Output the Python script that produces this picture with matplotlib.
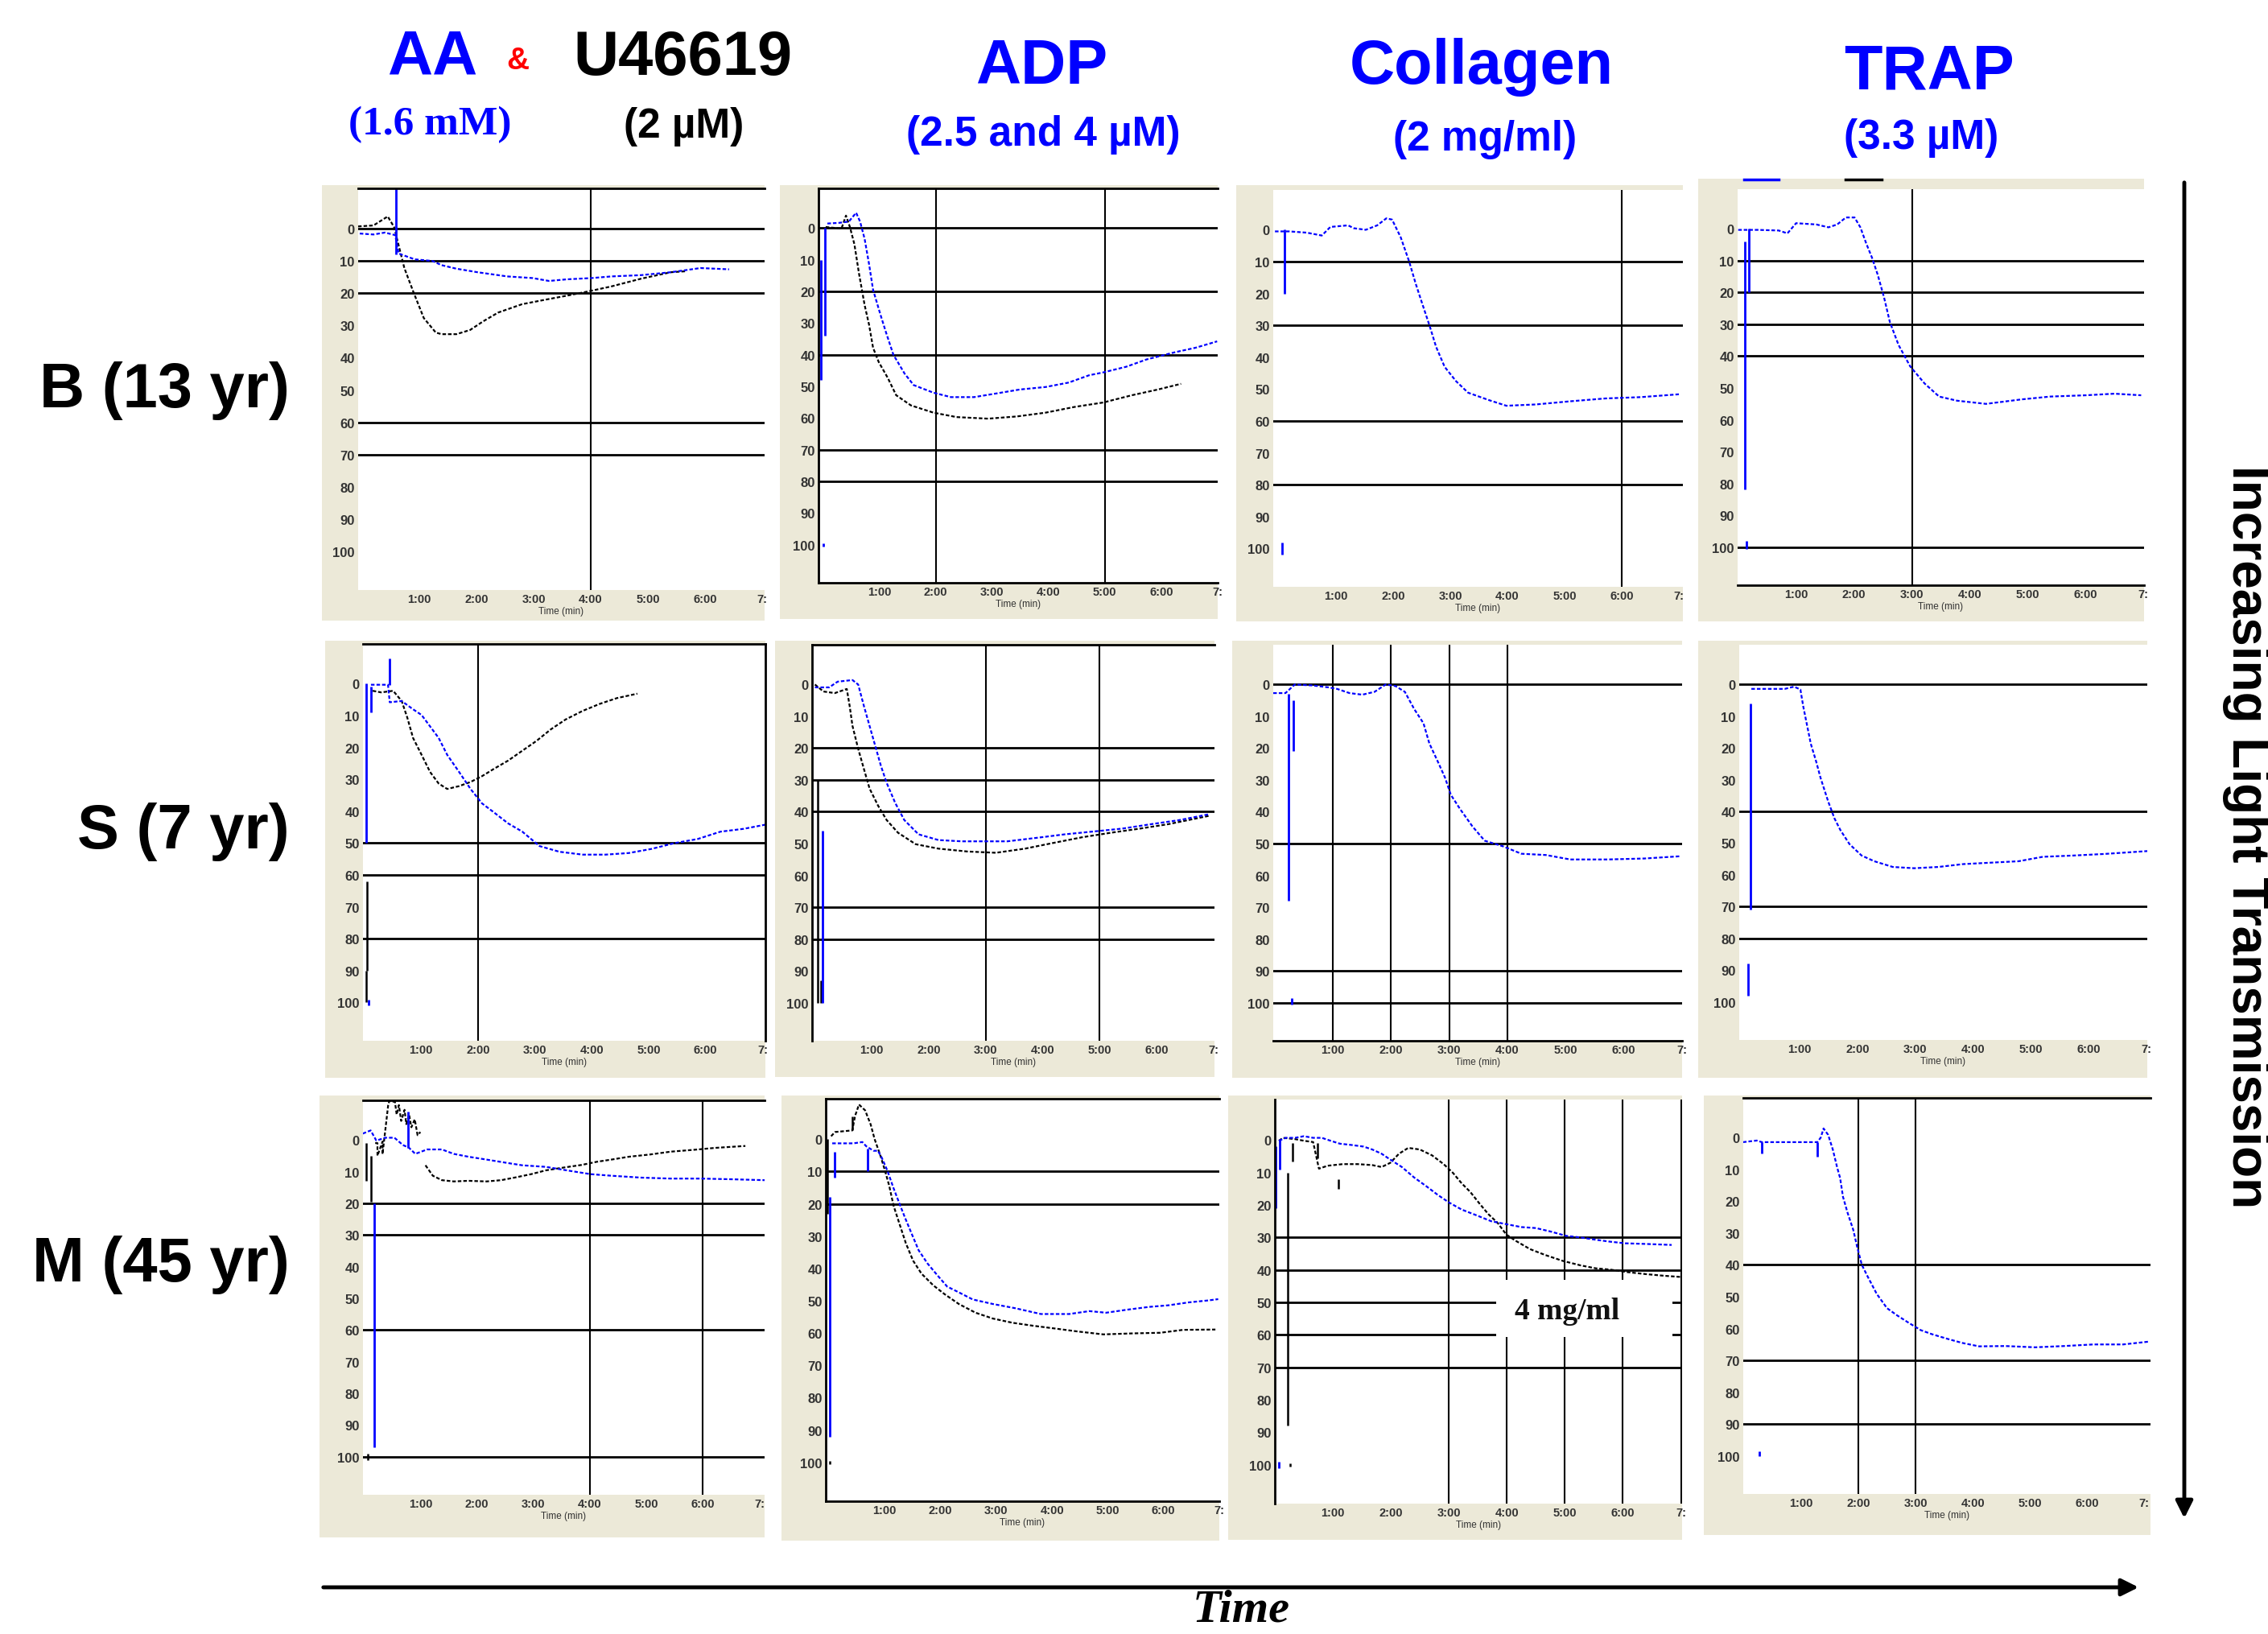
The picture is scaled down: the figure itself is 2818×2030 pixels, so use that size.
import matplotlib
matplotlib.use('Agg')
import matplotlib.pyplot as plt
from matplotlib.patches import Rectangle, FancyArrowPatch

plt.rcParams['font.family'] = ['Liberation Sans', 'DejaVu Sans']

W, H = 2818, 2031
BLUE = '#0000ff'
BEIGE = '#ECE9D8'

# ---------------- labels ----------------
Y_TICKS = [0, 10, 20, 30, 40, 50, 60, 70, 80, 90, 100]
X_TICKS = [1, 2, 3, 4, 5, 6, 7]
X_TICK_LABELS = ['1:00', '2:00', '3:00', '4:00', '5:00', '6:00', '7:']
X_LABEL = 'Time (min)'
ROW_LABELS = ['B (13 yr)', 'S (7 yr)', 'M (45 yr)']

# ---------------- data (time in min, % aggregation) ----------------
# Row B
B_AA_blue_t = [-0.04, 0.2, 0.4, 0.58, 0.64, 0.92, 1.23, 1.39, 1.65, 2.02, 2.54, 2.98, 3.27, 3.58, 4.02, 4.36, 4.88, 5.40, 5.92, 6.42]
B_AA_blue_y = [1.5, 1.8, 1.2, 2.0, 7.7, 9.5, 10.0, 11.3, 12.4, 13.5, 14.8, 15.3, 16.2, 15.7, 15.3, 14.8, 14.4, 13.5, 12.2, 12.6]
B_AA_black_t = [-0.07, 0.2, 0.45, 0.56, 0.74, 0.90, 1.08, 1.29, 1.39, 1.65, 1.89, 2.12, 2.38, 2.80, 3.21, 3.63, 3.94, 4.36, 4.88, 5.40, 5.66]
B_AA_black_y = [-0.7, -1.0, -3.8, -0.5, 12.2, 19.7, 27.7, 32.2, 32.7, 32.7, 31.4, 28.7, 26.0, 23.4, 22.0, 20.6, 19.5, 17.9, 15.5, 13.5, 13.2]
B_AA_blue_spikes = [(0.60, -12.5, 8.0)]
B_AA_black_spikes = []
B_AA_hlines = [0, 10, 20, 60, 70]
B_AA_vlines = [4]

B_ADP_blue_t = [0.08, 0.28, 0.46, 0.59, 0.66, 0.74, 0.82, 0.89, 1.02, 1.12, 1.25, 1.45, 1.61, 1.96, 2.27, 2.68, 3.09, 3.49, 3.95, 4.36, 4.72, 4.97, 5.38, 5.74, 6.25, 6.61, 6.99]
B_ADP_blue_y = [-1.4, -1.6, -2.0, -4.8, -2.0, 3.4, 11.5, 19.5, 27.3, 33.0, 40.0, 46.0, 49.6, 52.0, 53.4, 53.4, 52.2, 51.0, 50.2, 48.8, 46.5, 45.6, 43.8, 41.5, 39.2, 37.8, 35.8]
B_ADP_black_t = [0.05, 0.33, 0.41, 0.48, 0.56, 0.64, 0.74, 0.82, 0.89, 0.99, 1.15, 1.30, 1.56, 1.96, 2.37, 2.93, 3.44, 3.95, 4.46, 4.97, 5.48, 5.94, 6.35]
B_ADP_black_y = [-0.3, 0.2, -3.9, -0.3, 5.2, 14.3, 24.3, 30.6, 37.8, 42.3, 47.3, 52.8, 56.0, 58.3, 59.7, 60.2, 59.5, 58.3, 56.5, 55.1, 52.8, 51.0, 49.2]
B_ADP_blue_spikes = [(-0.03, 10, 48), (0.04, 0, 34), (0.01, 99.5, 100.5)]
B_ADP_black_spikes = []
B_ADP_hlines = [0, 20, 40, 70, 80]
B_ADP_vlines = [2, 5]

B_COL_blue_t = [-0.07, 0.18, 0.49, 0.75, 0.90, 1.21, 1.31, 1.52, 1.72, 1.88, 1.98, 2.13, 2.28, 2.39, 2.49, 2.64, 2.75, 2.90, 3.10, 3.31, 3.67, 3.98, 4.49, 5.10, 5.72, 6.33, 7.00]
B_COL_blue_y = [0.5, 0.5, 0.9, 1.8, -0.9, -1.4, -0.5, 0.0, -1.4, -3.6, -3.2, 2.3, 10.0, 16.7, 22.2, 30.3, 36.7, 43.0, 47.5, 51.1, 53.4, 55.2, 54.8, 53.8, 52.9, 52.5, 51.6]
B_COL_blue_spikes = [(0.10, 0, 20), (0.06, 98, 102)]
B_COL_hlines = [10, 30, 60, 80]
B_COL_vlines = [6]

B_TRAP_blue_t = [0.0, 0.34, 0.70, 0.85, 1.00, 1.35, 1.56, 1.71, 1.86, 2.01, 2.11, 2.21, 2.31, 2.41, 2.52, 2.62, 2.77, 2.97, 3.22, 3.47, 3.78, 4.28, 4.89, 5.39, 6.00, 6.50, 6.96]
B_TRAP_blue_y = [0.3, 0.3, 0.5, 1.4, -1.8, -1.4, -0.5, -1.4, -3.6, -3.6, -0.5, 4.5, 9.0, 14.4, 21.6, 29.3, 36.5, 43.2, 48.6, 52.7, 54.0, 55.0, 53.6, 52.7, 52.3, 51.8, 52.3]
B_TRAP_blue_spikes = [(0.11, 4, 82), (0.18, 0, 20), (0.14, 98, 100.5)]
B_TRAP_hlines = [10, 20, 30, 40, 100]
B_TRAP_vlines = [3]

# Row S
S_AA_blue_t = [0.12, 0.42, 0.45, 0.66, 0.86, 1.01, 1.16, 1.31, 1.46, 1.67, 1.87, 2.07, 2.27, 2.53, 2.78, 3.08, 3.43, 3.84, 4.24, 4.65, 5.05, 5.45, 5.86, 6.26, 6.67, 7.05]
S_AA_blue_y = [0.3, 0.3, 5.8, 5.4, 8.0, 9.8, 13.4, 17.0, 22.3, 27.7, 33.0, 37.5, 40.2, 43.8, 46.4, 50.9, 52.7, 53.6, 53.6, 53.1, 51.8, 50.0, 48.7, 46.4, 45.5, 44.2]
S_AA_black_t = [0.15, 0.30, 0.51, 0.66, 0.76, 0.86, 1.01, 1.16, 1.31, 1.46, 1.67, 1.87, 2.07, 2.27, 2.53, 2.78, 3.03, 3.28, 3.54, 3.84, 4.14, 4.44, 4.80]
S_AA_black_y = [2.2, 2.7, 2.2, 5.4, 10.7, 17.0, 22.3, 27.7, 31.3, 33.0, 32.1, 30.8, 29.0, 26.8, 24.1, 21.0, 17.9, 14.3, 11.2, 8.5, 6.3, 4.5, 3.1]
S_AA_blue_spikes = [(0.03, 0, 50), (0.12, 1, 9), (0.45, -8, 0.3), (0.08, 99, 101)]
S_AA_black_spikes = [(0.05, 62, 90), (0.035, 90, 100)]
S_AA_hlines = [50, 60, 80]
S_AA_vlines = [2]

S_ADP_blue_t = [0.0, 0.25, 0.40, 0.66, 0.76, 0.86, 0.96, 1.06, 1.16, 1.26, 1.41, 1.57, 1.82, 2.17, 2.58, 2.98, 3.38, 3.99, 4.39, 4.90, 5.40, 5.91, 6.41, 6.92]
S_ADP_blue_y = [0.9, 0.9, -0.9, -1.4, 0.0, 6.7, 13.0, 19.3, 25.6, 30.9, 37.2, 42.6, 47.1, 48.9, 49.3, 49.3, 49.3, 48.0, 47.1, 46.2, 45.3, 43.9, 42.6, 40.8]
S_ADP_black_t = [0.0, 0.15, 0.35, 0.56, 0.61, 0.66, 0.76, 0.86, 0.96, 1.11, 1.26, 1.46, 1.77, 2.17, 2.68, 3.18, 3.69, 4.19, 4.70, 5.20, 5.71, 6.21, 6.92]
S_ADP_black_y = [0.0, 2.2, 2.7, 1.4, 6.7, 13.0, 20.2, 26.5, 32.7, 38.1, 42.6, 46.6, 50.2, 51.6, 52.5, 52.9, 51.6, 49.8, 48.0, 46.6, 45.3, 43.9, 41.3]
S_ADP_blue_spikes = [(0.13, 46, 100)]
S_ADP_black_spikes = [(0.05, 30, 100), (0.10, 93, 100)]
S_ADP_hlines = [20, 30, 40, 70, 80]
S_ADP_vlines = [3, 5]

S_COL_blue_t = [-0.02, 0.19, 0.35, 0.66, 0.93, 1.08, 1.29, 1.51, 1.72, 1.91, 2.08, 2.24, 2.40, 2.56, 2.66, 2.82, 2.93, 3.03, 3.19, 3.40, 3.61, 3.93, 4.24, 4.66, 5.08, 5.72, 6.35, 6.96]
S_COL_blue_y = [2.7, 2.7, 0.0, 0.3, 0.9, 1.4, 2.7, 3.2, 2.3, 0.0, 0.5, 2.3, 7.7, 12.2, 18.5, 24.8, 29.3, 34.7, 39.2, 44.6, 49.1, 50.9, 53.2, 53.6, 55.0, 55.0, 54.7, 54.0]
S_COL_blue_spikes = [(0.24, 3, 68), (0.33, 5, 21), (0.30, 98.5, 100.5)]
S_COL_hlines = [0, 50, 90, 100]
S_COL_vlines = [1, 2, 3, 4]

S_TRAP_blue_t = [0.16, 0.43, 0.74, 0.90, 1.01, 1.06, 1.12, 1.19, 1.28, 1.36, 1.49, 1.60, 1.70, 1.86, 2.07, 2.29, 2.61, 2.98, 3.40, 3.83, 4.36, 4.79, 5.21, 5.74, 6.28, 7.02]
S_TRAP_blue_y = [1.4, 1.4, 1.4, 0.7, 1.6, 7.0, 12.4, 18.7, 24.1, 29.5, 36.8, 42.2, 45.8, 50.3, 53.9, 55.7, 57.5, 57.9, 57.5, 56.6, 56.1, 55.7, 54.3, 53.9, 53.4, 52.5]
S_TRAP_blue_spikes = [(0.14, 6, 71), (0.10, 88, 98)]
S_TRAP_hlines = [0, 40, 70, 80]
S_TRAP_vlines = []

# Row M
M_AA_blue_t = [-0.02, 0.12, 0.22, 0.38, 0.54, 0.69, 0.80, 0.91, 1.12, 1.38, 1.59, 1.85, 2.17, 2.48, 2.80, 3.22, 3.59, 4.01, 4.38, 4.91, 5.43, 5.96, 6.48, 7.09]
M_AA_blue_y = [-2.0, -3.0, 0.2, -0.7, -0.7, 1.6, 2.5, 4.4, 3.0, 3.0, 4.4, 5.3, 6.2, 7.1, 8.0, 8.5, 9.6, 10.8, 11.3, 11.9, 12.2, 12.2, 12.4, 12.7]
M_AA_black_t = [1.09, 1.22, 1.38, 1.59, 1.85, 2.17, 2.43, 2.69, 2.96, 3.22, 3.54, 3.85, 4.12, 4.38, 4.69, 5.06, 5.43, 5.85, 6.22, 6.75]
M_AA_black_y = [8.0, 11.3, 12.7, 13.1, 12.9, 13.1, 12.7, 11.8, 10.8, 9.6, 8.7, 7.9, 6.9, 6.2, 5.3, 4.6, 3.7, 3.1, 2.5, 1.9]
M_AA_black_noise_t = [0.20, 0.24, 0.24, 0.33, 0.33, 0.43, 0.45, 0.55, 0.58, 0.62, 0.66, 0.72, 0.75, 0.80, 0.84, 0.90, 0.95, 1.00]
M_AA_black_noise_y = [1.0, 1.0, 5.0, 0.5, 4.5, -11.0, -12.3, -12.0, -8.0, -11.0, -6.0, -9.5, -5.0, -8.0, -4.0, -6.5, -1.5, -2.5]
M_AA_blue_spikes = [(0.18, 20, 97), (0.78, -9, 2.5)]
M_AA_black_spikes = [(0.04, 1, 13), (0.12, 5, 19.5), (0.07, 99, 101)]
M_AA_hlines = [20, 30, 60, 100]
M_AA_vlines = [4, 6]

M_ADP_blue_t = [0.06, 0.24, 0.44, 0.60, 0.67, 0.80, 0.88, 0.95, 1.05, 1.16, 1.26, 1.36, 1.49, 1.61, 1.77, 1.92, 2.12, 2.33, 2.58, 2.94, 3.34, 3.80, 4.31, 4.67, 4.97, 5.33, 5.74, 6.09, 6.45, 6.80, 6.98]
M_ADP_blue_y = [1.3, 1.3, 1.3, 0.9, 2.2, 3.6, 3.6, 5.8, 9.8, 15.2, 19.7, 24.1, 29.5, 34.4, 38.5, 41.6, 45.6, 47.4, 49.6, 51.0, 52.3, 54.1, 54.1, 53.2, 53.7, 52.8, 51.9, 51.4, 50.5, 49.9, 49.5]
M_ADP_black_t = [0.04, 0.11, 0.42, 0.47, 0.54, 0.65, 0.75, 0.82, 0.93, 1.00, 1.08, 1.16, 1.26, 1.38, 1.51, 1.66, 1.87, 2.07, 2.33, 2.63, 2.94, 3.29, 3.65, 4.06, 4.46, 4.92, 5.43, 5.94, 6.35, 6.93]
M_ADP_black_y = [-0.9, -2.2, -2.7, -7.2, -10.7, -8.9, -4.5, 0.0, 5.4, 9.4, 14.3, 20.6, 25.9, 32.2, 37.6, 41.6, 45.2, 47.9, 51.0, 53.7, 55.5, 56.8, 57.7, 58.6, 59.5, 60.4, 60.1, 59.9, 59.0, 58.9]
M_ADP_blue_spikes = [(0.02, 18, 92), (0.10, 4, 12), (0.70, 3, 10)]
M_ADP_black_spikes = [(-0.03, 0, 23), (0.42, -7, -2.7), (0.02, 99.5, 100.5)]
M_ADP_hlines = [10, 20]
M_ADP_vlines = []

M_COL_blue_t = [0.07, 0.19, 0.35, 0.50, 0.66, 0.81, 0.96, 1.12, 1.32, 1.53, 1.68, 1.84, 1.99, 2.19, 2.40, 2.61, 2.81, 3.00, 3.22, 3.48, 3.73, 3.99, 4.25, 4.50, 4.76, 5.02, 5.27, 5.53, 5.78, 6.04, 6.40, 6.84]
M_COL_blue_y = [0.2, -0.7, -0.7, -1.2, -0.7, -0.7, 0.2, 1.1, 1.5, 2.0, 2.9, 4.2, 6.0, 8.3, 11.5, 14.2, 16.9, 19.2, 21.4, 23.2, 25.0, 25.9, 26.8, 27.1, 28.2, 29.5, 30.0, 30.7, 31.3, 31.8, 32.0, 32.3]
M_COL_black_t = [0.07, 0.14, 0.35, 0.50, 0.66, 0.76, 0.91, 1.17, 1.43, 1.68, 1.84, 1.99, 2.14, 2.30, 2.50, 2.71, 2.91, 3.07, 3.22, 3.37, 3.53, 3.68, 3.84, 3.99, 4.14, 4.40, 4.66, 4.96, 5.27, 5.53, 5.78, 6.09, 6.40, 6.71, 7.02]
M_COL_black_y = [0.2, -0.7, -0.3, 0.2, 0.6, 8.8, 7.9, 7.4, 7.4, 7.7, 8.3, 7.0, 4.2, 2.4, 2.9, 4.7, 7.4, 10.1, 13.3, 16.0, 19.6, 22.8, 25.5, 29.1, 30.9, 33.6, 35.4, 37.2, 38.6, 39.5, 39.9, 40.7, 41.3, 41.8, 42.2]
M_COL_blue_spikes = [(0.02, 2, 21), (0.09, 0, 9), (0.07, 99, 101)]
M_COL_black_spikes = [(0.22, 10, 88), (0.30, 1, 6.6), (0.73, 1, 5.5), (1.10, 12, 15), (0.26, 99.5, 100.5)]
M_COL_hlines = [30, 40, 50, 60, 70]
M_COL_vlines = [3, 4, 5, 6, 7]
M_COL_note = '4 mg/ml'

M_TRAP_blue_t = [-0.02, 0.22, 0.31, 0.42, 0.73, 0.98, 1.24, 1.28, 1.34, 1.39, 1.47, 1.55, 1.63, 1.68, 1.73, 1.81, 1.91, 1.98, 2.06, 2.16, 2.32, 2.50, 2.68, 2.88, 3.09, 3.29, 3.55, 3.81, 4.11, 4.57, 5.09, 5.60, 6.11, 6.63, 7.09]
M_TRAP_blue_y = [1.4, 0.9, 1.4, 1.4, 1.4, 1.4, 1.4, 1.4, 0.0, -2.9, -0.9, 3.6, 9.5, 12.7, 18.6, 23.6, 29.0, 34.5, 40.0, 43.6, 49.1, 53.6, 55.9, 58.2, 60.5, 61.8, 63.2, 64.5, 65.6, 65.5, 65.9, 65.5, 65.0, 65.0, 64.1]
M_TRAP_blue_spikes = [(0.31, 1.4, 5), (1.28, 1.4, 5.9), (0.27, 98.5, 100)]
M_TRAP_hlines = [40, 70, 90]
M_TRAP_vlines = [2, 3]

# ---------------- layout (pixel boxes: left, top, right, bottom) ----------------
panels = [
    dict(plot=(445, 235, 950, 734), outer=(400, 231, 950, 772), xlim=(-0.068, 7.04), spines=('top',),
         blue=[(B_AA_blue_t, B_AA_blue_y)], black=[(B_AA_black_t, B_AA_black_y)],
         bspk=B_AA_blue_spikes, kspk=B_AA_black_spikes, hl=B_AA_hlines, vl=B_AA_vlines),
    dict(plot=(1017, 235, 1513, 725), outer=(969, 231, 1513, 770), xlim=(-0.077, 7.0), spines=('top', 'left', 'bottom'),
         blue=[(B_ADP_blue_t, B_ADP_blue_y)], black=[(B_ADP_black_t, B_ADP_black_y)],
         bspk=B_ADP_blue_spikes, kspk=B_ADP_black_spikes, hl=B_ADP_hlines, vl=B_ADP_vlines),
    dict(plot=(1582, 237, 2091, 730), outer=(1536, 231, 2091, 773), xlim=(-0.1, 7.07), spines=(),
         blue=[(B_COL_blue_t, B_COL_blue_y)], black=[],
         bspk=B_COL_blue_spikes, kspk=[], hl=B_COL_hlines, vl=B_COL_vlines),
    dict(plot=(2159, 236, 2664, 728), outer=(2110, 223, 2664, 773), xlim=(-0.01, 7.01), spines=('bottom',),
         blue=[(B_TRAP_blue_t, B_TRAP_blue_y)], black=[],
         bspk=B_TRAP_blue_spikes, kspk=[], hl=B_TRAP_hlines, vl=B_TRAP_vlines, legend=True),
    dict(plot=(451, 801, 951, 1294), outer=(404, 797, 951, 1340), xlim=(-0.02, 7.05), spines=('top', 'right'),
         blue=[(S_AA_blue_t, S_AA_blue_y)], black=[(S_AA_black_t, S_AA_black_y)],
         bspk=S_AA_blue_spikes, kspk=S_AA_black_spikes, hl=S_AA_hlines, vl=S_AA_vlines),
    dict(plot=(1009, 802, 1509, 1294), outer=(963, 797, 1509, 1339), xlim=(-0.05, 7.02), spines=('top', 'left'),
         blue=[(S_ADP_blue_t, S_ADP_blue_y)], black=[(S_ADP_black_t, S_ADP_black_y)],
         bspk=S_ADP_blue_spikes, kspk=S_ADP_black_spikes, hl=S_ADP_hlines, vl=S_ADP_vlines),
    dict(plot=(1582, 802, 2090, 1294), outer=(1531, 797, 2090, 1340), xlim=(-0.02, 7.0), spines=('bottom',),
         blue=[(S_COL_blue_t, S_COL_blue_y)], black=[],
         bspk=S_COL_blue_spikes, kspk=[], hl=S_COL_hlines, vl=S_COL_vlines),
    dict(plot=(2161, 802, 2668, 1293), outer=(2110, 797, 2668, 1340), xlim=(-0.05, 7.02), spines=(),
         blue=[(S_TRAP_blue_t, S_TRAP_blue_y)], black=[],
         bspk=S_TRAP_blue_spikes, kspk=[], hl=S_TRAP_hlines, vl=S_TRAP_vlines),
    dict(plot=(451, 1368, 950, 1858), outer=(397, 1362, 950, 1911), xlim=(-0.016, 7.09), spines=('top',),
         blue=[(M_AA_blue_t, M_AA_blue_y)], black=[(M_AA_black_t, M_AA_black_y), (M_AA_black_noise_t, M_AA_black_noise_y)],
         bspk=M_AA_blue_spikes, kspk=M_AA_black_spikes, hl=M_AA_hlines, vl=M_AA_vlines),
    dict(plot=(1026, 1366, 1515, 1866), outer=(971, 1362, 1515, 1915), xlim=(-0.056, 6.98), spines=('top', 'left', 'bottom'),
         blue=[(M_ADP_blue_t, M_ADP_blue_y)], black=[(M_ADP_black_t, M_ADP_black_y)],
         bspk=M_ADP_blue_spikes, kspk=M_ADP_black_spikes, hl=M_ADP_hlines, vl=M_ADP_vlines),
    dict(plot=(1584, 1367, 2090, 1869), outer=(1526, 1362, 2090, 1914), xlim=(0.0, 7.02), spines=('left',),
         blue=[(M_COL_blue_t, M_COL_blue_y)], black=[(M_COL_black_t, M_COL_black_y)],
         bspk=M_COL_blue_spikes, kspk=M_COL_black_spikes, hl=M_COL_hlines, vl=M_COL_vlines, note=M_COL_note),
    dict(plot=(2166, 1365, 2672, 1857), outer=(2117, 1362, 2672, 1908), xlim=(-0.015, 7.11), spines=('top',),
         blue=[(M_TRAP_blue_t, M_TRAP_blue_y)], black=[],
         bspk=M_TRAP_blue_spikes, kspk=[], hl=M_TRAP_hlines, vl=M_TRAP_vlines),
]

fig = plt.figure(figsize=(W / 100, H / 100), dpi=100)
fig.patch.set_facecolor('white')


def fx(px):
    return px / W


def fy(py):
    return 1 - py / H


TRACE_LS = (0, (2.0, 1.1))

for p in panels:
    ol, ot, orr, ob = p['outer']
    fig.add_artist(Rectangle((fx(ol), fy(ob)), fx(orr) - fx(ol), fy(ot) - fy(ob),
                             transform=fig.transFigure, facecolor=BEIGE, edgecolor='none', zorder=0))
    l, t, r, b = p['plot']
    ax = fig.add_axes([fx(l), fy(b), fx(r) - fx(l), fy(t) - fy(b)])
    ax.set_facecolor('white')
    ax.set_xlim(*p['xlim'])
    ax.set_ylim(112, -12.5)
    for s in ax.spines.values():
        s.set_visible(False)
    for s in p['spines']:
        ax.spines[s].set_visible(True)
        ax.spines[s].set_linewidth(2.0)
        ax.spines[s].set_color('black')
    ax.set_yticks(Y_TICKS)
    ax.set_yticklabels([str(v) for v in Y_TICKS], fontsize=12, fontweight='bold', color='#333333')
    ax.set_xticks(X_TICKS)
    ax.set_xticklabels(X_TICK_LABELS, fontsize=10.5, fontweight='bold', color='#333333')
    ax.tick_params(length=0, pad=3)
    ax.set_xlabel(X_LABEL, fontsize=8.5, color='#333333', labelpad=1)
    for h in p['hl']:
        ax.axhline(h, color='black', lw=2.0, zorder=1)
    for v in p['vl']:
        ax.axvline(v, color='black', lw=1.5, zorder=1)
    for (tt, yy) in p['black']:
        ax.plot(tt, yy, color='black', lw=1.6, ls=TRACE_LS, zorder=2)
    for (tt, yy) in p['blue']:
        ax.plot(tt, yy, color=BLUE, lw=1.6, ls=TRACE_LS, zorder=2.2)
    for (xv, y0, y1) in p['kspk']:
        ax.vlines(xv, y0, y1, color='black', lw=1.8, zorder=2)
    for (xv, y0, y1) in p['bspk']:
        ax.vlines(xv, y0, y1, color=BLUE, lw=2.0, zorder=2.3)
    if p.get('note'):
        ax.add_patch(Rectangle((3.81, 43.1), 3.05, 17.6, facecolor='white', edgecolor='none', zorder=3))
        ax.text(5.04, 52.5, p['note'], family='Liberation Serif', fontsize=27, fontweight='bold',
                ha='center', va='center', zorder=4, color='#111111')
    if p.get('legend'):
        ax.plot([0.015, 0.10], [1.025, 1.025], transform=ax.transAxes, color=BLUE, lw=2.5, clip_on=False)
        ax.plot([0.265, 0.355], [1.025, 1.025], transform=ax.transAxes, color='black', lw=2.5, clip_on=False)

# ---------------- header texts ----------------
HEAD = dict(fontsize=56, fontweight='bold', ha='center', va='center')
SUB = dict(fontsize=37, fontweight='bold', ha='center', va='center')
fig.text(fx(537), fy(72), 'AA', color=BLUE, **HEAD)
fig.text(fx(643), fy(76), '&', color='red', fontsize=28, fontweight='bold', ha='center', va='center')
fig.text(fx(848), fy(72), 'U46619', color='black', **HEAD)
fig.text(fx(534), fy(155), '(1.6 mM)', color=BLUE, family='Liberation Serif', **SUB)
fig.text(fx(850), fy(158), '(2 µM)', color='black', **SUB)
fig.text(fx(1294), fy(83), 'ADP', color=BLUE, **HEAD)
fig.text(fx(1296), fy(167), '(2.5 and 4 µM)', color=BLUE, **SUB)
fig.text(fx(1841), fy(84), 'Collagen', color=BLUE, **HEAD)
fig.text(fx(1845), fy(174), '(2 mg/ml)', color=BLUE, **SUB)
fig.text(fx(2397), fy(90), 'TRAP', color=BLUE, **HEAD)
fig.text(fx(2387), fy(171), '(3.3 µM)', color=BLUE, **SUB)

# row labels
for lab, yc in zip(ROW_LABELS, [485, 1033, 1572]):
    fig.text(fx(360), fy(yc), lab, fontsize=56, fontweight='bold', ha='right', va='center', color='black')

# right arrow + label
fig.add_artist(FancyArrowPatch((fx(2714), fy(225)), (fx(2714), fy(1890)), transform=fig.transFigure,
                               arrowstyle='-|>', mutation_scale=32, lw=3.5, color='black'))
fig.text(fx(2791), fy(1040), 'Increasing Light Transmission', rotation=-90, fontsize=46,
         fontweight='bold', ha='center', va='center', color='black')

# bottom arrow + label
fig.add_artist(FancyArrowPatch((fx(399), fy(1973)), (fx(2660), fy(1973)), transform=fig.transFigure,
                               arrowstyle='-|>', mutation_scale=32, lw=3.5, color='black'))
fig.text(fx(1542), fy(2027), 'Time', family='Liberation Serif', style='italic', fontweight='bold',
         fontsize=42, ha='center', va='bottom', color='black')

fig.savefig('out.png', dpi=100, facecolor='white')
